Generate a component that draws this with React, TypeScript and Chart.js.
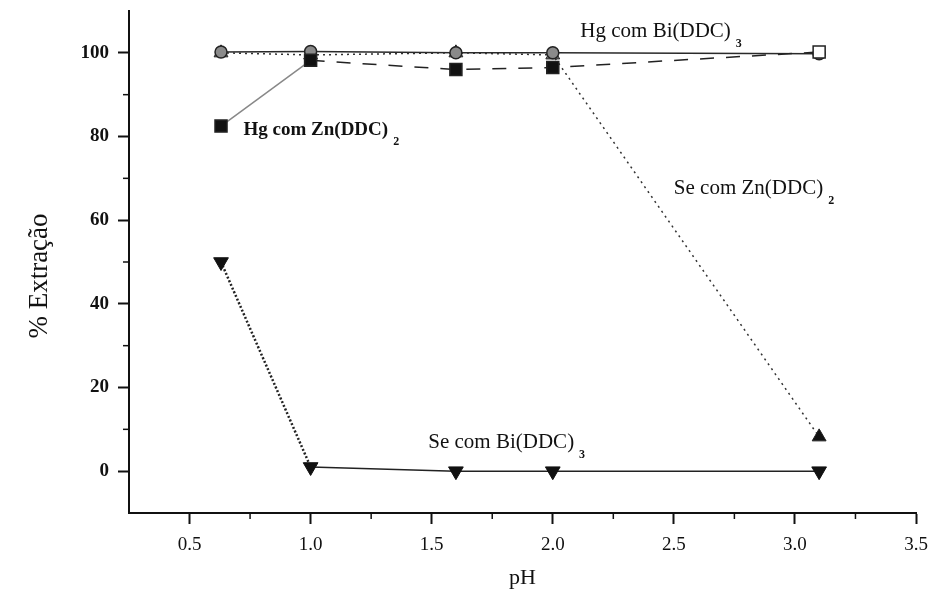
import React, { useEffect, useRef } from 'react';
import { Chart, registerables } from 'chart.js';

Chart.register(...registerables);

// ---- data ----
const pH = [0.63, 1.0, 1.6, 2.0, 3.1];
const hgBi = [100.2, 100.3, 100, 100, 99.8];
const seZn = [100, 99.5, 100, 99.5, 8.2];
const hgZn = [82.5, 98.2, 96, 96.5, 100.2];
const seBi = [50, 1, 0, 0, 0];

const xTicks = [0.5, 1.0, 1.5, 2.0, 2.5, 3.0, 3.5];
const xMinorTicks = [0.75, 1.25, 1.75, 2.25, 2.75, 3.25];
const yTicks = [0, 20, 40, 60, 80, 100];
const yMinorTicks = [10, 30, 50, 70, 90];

const seriesNames = ['Hg com Bi(DDC)3', 'Se com Zn(DDC)2', 'Hg com Zn(DDC)2', 'Se com Bi(DDC)3'];

const annoMain = ['Hg com Bi(DDC)', 'Hg com Zn(DDC)', 'Se com Zn(DDC)', 'Se com Bi(DDC)'];
const annoSub = ['3', '2', '2', '3'];
const annoX = [2.114, 0.723, 2.5, 1.486];
const annoY = [105, 81.6, 67.5, 6.8];
const annoBold = [false, true, false, false];

const xTitle = 'pH';
const yTitle = '% Extração';

const SERIF = '"Liberation Serif", "DejaVu Serif", serif';

const overlayPlugin = {
  id: 'overlay',
  afterDraw(chart: any) {
    const { ctx, scales } = chart;
    const xs = scales.x;
    const ys = scales.y;
    const area = chart.chartArea;
    ctx.save();
    // minor ticks
    ctx.strokeStyle = '#111';
    ctx.lineWidth = 1.5;
    xMinorTicks.forEach((v) => {
      const px = xs.getPixelForValue(v);
      ctx.beginPath();
      ctx.moveTo(px, area.bottom);
      ctx.lineTo(px, area.bottom + 6);
      ctx.stroke();
    });
    yMinorTicks.forEach((v) => {
      const py = ys.getPixelForValue(v);
      ctx.beginPath();
      ctx.moveTo(area.left, py);
      ctx.lineTo(area.left - 6, py);
      ctx.stroke();
    });
    // annotations
    ctx.fillStyle = '#111';
    ctx.textBaseline = 'middle';
    ctx.textAlign = 'left';
    annoMain.forEach((t, i) => {
      const px = xs.getPixelForValue(annoX[i]);
      const py = ys.getPixelForValue(annoY[i]);
      ctx.font = annoBold[i] ? `bold 19px ${SERIF}` : `21px ${SERIF}`;
      ctx.fillText(t, px, py);
      const w = ctx.measureText(t).width;
      ctx.font = `bold 12px ${SERIF}`;
      ctx.fillText(annoSub[i], px + w + 5, py + 12);
    });
    // y title
    ctx.font = `27px ${SERIF}`;
    ctx.textAlign = 'center';
    ctx.translate(40, 276);
    ctx.rotate(-Math.PI / 2);
    ctx.fillText(yTitle, 0, 0);
    ctx.restore();
  },
};

export default function App() {
  const ref = useRef<HTMLCanvasElement | null>(null);

  useEffect(() => {
    document.body.style.margin = '0';
    const canvas = ref.current;
    if (!canvas) return;
    const chart = new Chart(canvas, {
      type: 'line',
      data: {
        datasets: [
          {
            label: seriesNames[0],
            order: 1,
            data: pH.map((x, i) => ({ x, y: hgBi[i] })),
            borderColor: '#2a2a2a',
            borderWidth: 1.5,
            pointStyle: 'circle',
            pointRadius: 6,
            pointBackgroundColor: '#8a8a8a',
            pointBorderColor: '#222',
            pointBorderWidth: 1.5,
          },
          {
            label: seriesNames[1],
            order: 2,
            data: pH.map((x, i) => ({ x, y: seZn[i] })),
            borderColor: '#333',
            borderWidth: 1.5,
            borderDash: [2, 4],
            pointStyle: 'triangle',
            pointRadius: 8,
            pointBackgroundColor: ['#777', '#777', '#777', '#777', '#111'],
            pointBorderColor: '#222',
            pointBorderWidth: 1,
          },
          {
            label: seriesNames[2],
            order: 0,
            data: pH.map((x, i) => ({ x, y: hgZn[i] })),
            borderColor: '#222',
            borderWidth: 1.5,
            segment: {
              borderDash: (c: any) => (c.p0DataIndex === 0 ? [] : [14, 12]),
              borderColor: (c: any) => (c.p0DataIndex === 0 ? '#888' : '#222'),
            },
            pointStyle: 'rect',
            pointRadius: 8.5,
            pointBackgroundColor: ['#111', '#111', '#111', '#111', '#fff'],
            pointBorderColor: '#222',
            pointBorderWidth: 1.5,
          },
          {
            label: seriesNames[3],
            order: 3,
            data: pH.map((x, i) => ({ x, y: seBi[i] })),
            borderColor: '#222',
            borderWidth: 1.5,
            segment: {
              borderDash: (c: any) => (c.p0DataIndex === 0 ? [2, 2] : []),
              borderWidth: (c: any) => (c.p0DataIndex === 0 ? 2.5 : 1.5),
            },
            pointStyle: 'triangle',
            pointRotation: 180,
            pointRadius: 8.5,
            pointBackgroundColor: '#111',
            pointBorderColor: '#111',
            pointBorderWidth: 1,
          },
        ],
      },
      options: {
        responsive: false,
        animation: false,
        events: [],
        layout: { padding: { top: 11, right: 14, left: 0, bottom: 0 } },
        plugins: {
          legend: { display: false },
          tooltip: { enabled: false },
        },
        scales: {
          x: {
            type: 'linear',
            min: 0.25,
            max: 3.5,
            afterBuildTicks: (s: any) => {
              s.ticks = xTicks.map((v) => ({ value: v }));
            },
            afterFit: (s: any) => {
              s.height = 81;
              s.paddingLeft = 0;
              s.paddingRight = 0;
            },
            border: { display: true, color: '#111', width: 2 },
            grid: {
              drawOnChartArea: false,
              drawTicks: true,
              tickLength: 11,
              tickColor: '#111',
              tickWidth: 2,
            },
            ticks: {
              padding: 10,
              color: '#111',
              font: { family: SERIF, size: 19 },
              callback: (v: any) => Number(v).toFixed(1),
              maxRotation: 0,
            },
            title: {
              display: true,
              text: xTitle,
              color: '#111',
              font: { family: SERIF, size: 22 },
              padding: { top: 0, bottom: 3 },
            },
          },
          y: {
            type: 'linear',
            min: -10,
            max: 110,
            afterBuildTicks: (s: any) => {
              s.ticks = yTicks.map((v) => ({ value: v }));
            },
            afterFit: (s: any) => {
              s.width = 129;
              s.paddingTop = 0;
              s.paddingBottom = 0;
            },
            border: { display: true, color: '#111', width: 2 },
            grid: {
              drawOnChartArea: false,
              drawTicks: true,
              tickLength: 11,
              tickColor: '#111',
              tickWidth: 2,
            },
            ticks: {
              padding: 9,
              color: '#111',
              font: { family: SERIF, size: 19, weight: 'bold' },
            },
          },
        },
      },
      plugins: [overlayPlugin],
    } as any);
    return () => chart.destroy();
  }, []);

  return (
    <div style={{ width: 930, height: 594, background: '#fff' }}>
      <canvas ref={ref} width={930} height={594} />
    </div>
  );
}
